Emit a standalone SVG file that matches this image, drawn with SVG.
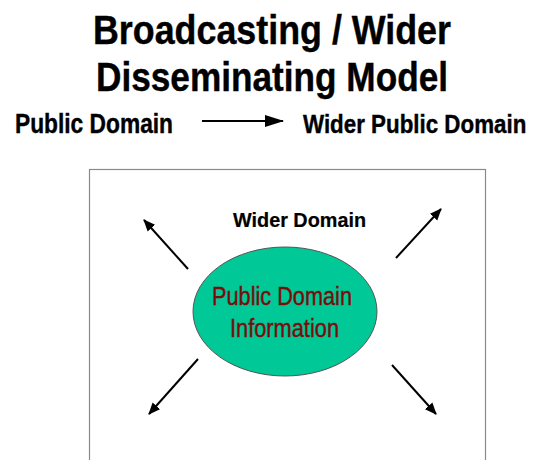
<svg xmlns="http://www.w3.org/2000/svg" width="533" height="460" viewBox="0 0 533 460">
<defs>
<style>
.t{font-family:"Liberation Sans",Arial,sans-serif;font-weight:bold;fill:#000;stroke:#000;stroke-width:0.4}
.n{font-family:"Liberation Sans",Arial,sans-serif;fill:#7a0c0c;stroke:#7a0c0c;stroke-width:0.4}
.c{stroke:#000;stroke-width:2;fill:none}
</style>
<marker id="ah" markerWidth="14" markerHeight="12" refX="11" refY="6" orient="auto" markerUnits="userSpaceOnUse">
<path d="M0,1 L12,6 L0,11 Z" fill="#000"/>
</marker>
<marker id="ah2" markerWidth="20" markerHeight="12" refX="18" refY="6" orient="auto" markerUnits="userSpaceOnUse">
<path d="M0,0 L19,6 L0,12 Z" fill="#000"/>
</marker>
</defs>
<rect width="533" height="460" fill="#fff"/>
<g id="title">
<text class="t" x="93" y="44" font-size="40" textLength="358" lengthAdjust="spacingAndGlyphs">Broadcasting / Wider</text>
<text class="t" x="96" y="91" font-size="40" textLength="352" lengthAdjust="spacingAndGlyphs">Disseminating Model</text>
</g>
<g id="public-domain">
<text class="t" x="15" y="133" font-size="27" textLength="158" lengthAdjust="spacingAndGlyphs">Public Domain</text>
</g>
<g id="wider-public-domain">
<text class="t" transform="translate(303,133) scale(0.86,1)" x="0" y="0" font-size="26">Wider Public Domain</text>
</g>
<g id="frame">
<rect x="89.5" y="169.5" width="396" height="300" fill="none" stroke="#8a8a8a" stroke-width="1.2"/>
</g>
<g id="wider-domain">
<text class="t" x="233" y="227" font-size="20" textLength="133" lengthAdjust="spacingAndGlyphs" style="stroke-width:0.2">Wider Domain</text>
</g>
<g id="info">
<ellipse cx="285" cy="311.5" rx="92" ry="64.5" fill="#00c896" stroke="#555" stroke-width="1"/>
<text class="n" x="212" y="305" font-size="25" textLength="140" lengthAdjust="spacingAndGlyphs">Public Domain</text>
<text class="n" x="230" y="337" font-size="25" textLength="109" lengthAdjust="spacingAndGlyphs">Information</text>
</g>
<g id="connectors">
<line class="c" x1="202" y1="121" x2="283" y2="121" stroke-width="2.5" marker-end="url(#ah2)"/>
<line class="c" x1="188" y1="269" x2="144" y2="220" marker-end="url(#ah)"/>
<line class="c" x1="396" y1="258" x2="441" y2="209" marker-end="url(#ah)"/>
<line class="c" x1="198" y1="359" x2="149" y2="414" marker-end="url(#ah)"/>
<line class="c" x1="392" y1="365" x2="436" y2="414" marker-end="url(#ah)"/>
</g>
</svg>
